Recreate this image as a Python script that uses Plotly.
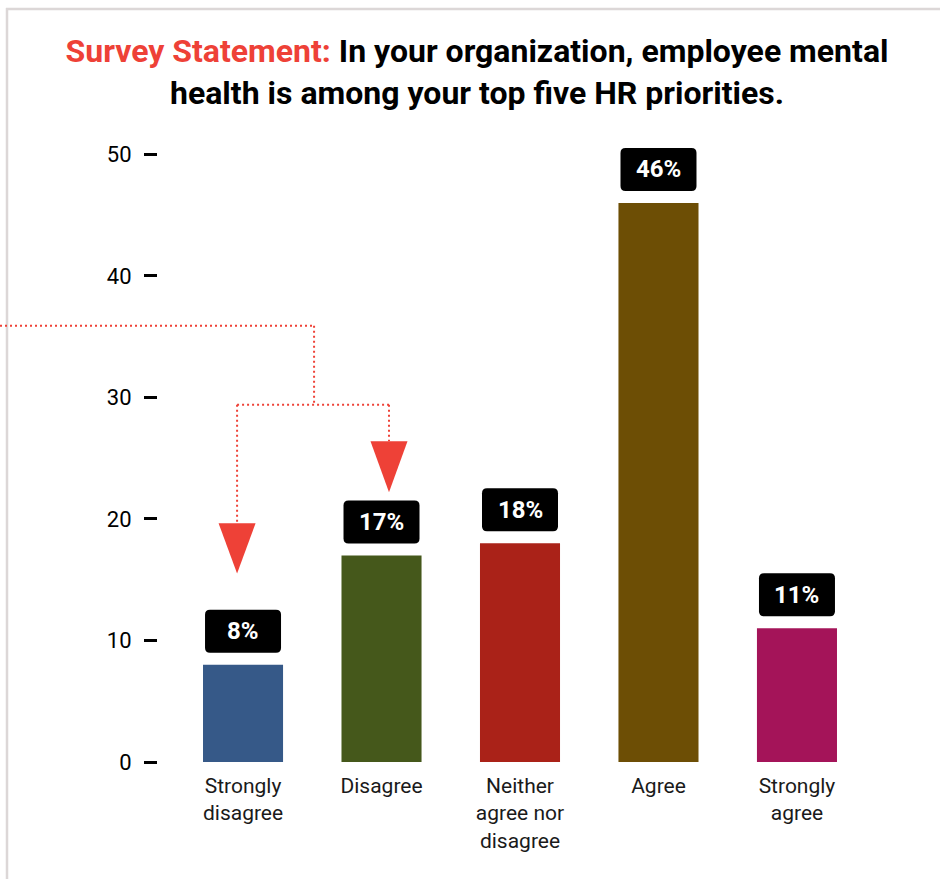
import plotly.graph_objects as go

# Survey responses
categories = ["Strongly<br>disagree", "Disagree", "Neither<br>agree nor<br>disagree", "Agree", "Strongly<br>agree"]
percentages = [8, 17, 18, 46, 11]
bar_colors = ["#365988", "#45581b", "#aa2218", "#6d4e05", "#a41459"]
y_ticks = [0, 10, 20, 30, 40, 50]

W, H = 940, 879
M_L, M_R, M_T, M_B = 158, 58, 130, 117
X_RANGE = [-0.614, 4.614]
Y_RANGE = [0, 52]
ACCENT = "#ee4137"

xs = list(range(len(categories)))

fig = go.Figure()
fig.add_trace(go.Bar(
    x=xs, y=percentages, width=0.578,
    marker=dict(color=bar_colors, line=dict(width=0)),
    hoverinfo="skip",
))


def px_x(px):
    return (px - M_L) / (W - M_L - M_R)


def px_y(py):
    return (H - M_B - py) / (H - M_T - M_B)


def dx(v):
    return (v - X_RANGE[0]) / (X_RANGE[1] - X_RANGE[0])


def dy(v):
    return (v - Y_RANGE[0]) / (Y_RANGE[1] - Y_RANGE[0])


shapes = []

# frame around the card (top and left edges)
frame = dict(color="#dcd7d7", width=2.5)
shapes.append(dict(type="line", xref="paper", yref="paper",
                   x0=px_x(6), x1=px_x(W + 2), y0=px_y(9), y1=px_y(9), line=frame))
shapes.append(dict(type="line", xref="paper", yref="paper",
                   x0=px_x(7), x1=px_x(7), y0=px_y(8), y1=px_y(H + 2), line=frame))

# dotted connector that splits towards the two "disagree" bars
dot = dict(color=ACCENT, width=2, dash="2px,3px")
split_x = 0.513
left_x, right_x = -0.043, 1.054
top_y, mid_y = 35.9, 29.4
left_head, right_head = (19.65, 15.5), (26.4, 22.2)

segments = [
    (px_x(0), dy(top_y), dx(split_x), dy(top_y)),
    (dx(split_x), dy(top_y), dx(split_x), dy(mid_y)),
    (dx(left_x), dy(mid_y), dx(right_x), dy(mid_y)),
    (dx(left_x), dy(mid_y), dx(left_x), dy(left_head[0])),
    (dx(right_x), dy(mid_y), dx(right_x), dy(right_head[0])),
]
for x0, y0, x1, y1 in segments:
    shapes.append(dict(type="line", xref="paper", yref="paper",
                       x0=x0, y0=y0, x1=x1, y1=y1, line=dot))

half_w = 18.5 / (W - M_L - M_R)
for hx, (ht, hb) in [(left_x, left_head), (right_x, right_head)]:
    cx = dx(hx)
    path = (f"M {cx - half_w},{dy(ht)} L {cx + half_w},{dy(ht)} "
            f"L {cx},{dy(hb)} Z")
    shapes.append(dict(type="path", xref="paper", yref="paper", path=path,
                       fillcolor=ACCENT, line=dict(width=0)))

# rounded black value badges above each bar
badge = ("M -33,12 L 33,12 Q 38,12 38,17 L 38,50 Q 38,55 33,55 "
         "L -33,55 Q -38,55 -38,50 L -38,17 Q -38,12 -33,12 Z")
annotations = []
for x, v in zip(xs, percentages):
    shapes.append(dict(type="path", xref="x", yref="y",
                       xsizemode="pixel", ysizemode="pixel",
                       xanchor=x, yanchor=v, path=badge,
                       fillcolor="#000000", line=dict(width=0)))
    annotations.append(dict(x=x, y=v, xref="x", yref="y", text=f"{v}%",
                            showarrow=False, yshift=33.5, yanchor="middle",
                            font=dict(family="Roboto", size=24, color="#ffffff",
                                      weight="bold")))

title_text = (f'<span style="color:{ACCENT}">Survey Statement:</span> '
              "In your organization, employee mental<br>"
              "health is among your top five HR priorities.")

fig.update_layout(
    width=W, height=H,
    margin=dict(l=M_L, r=M_R, t=M_T, b=M_B, pad=0),
    paper_bgcolor="#ffffff", plot_bgcolor="#ffffff",
    showlegend=False,
    title=dict(text=title_text, x=477 / W, xanchor="center", xref="container",
               y=1 - 62 / H, yanchor="middle", yref="container",
               font=dict(family="Roboto", size=32, color="#000000", weight="bold")),
    xaxis=dict(range=X_RANGE, tickvals=xs, ticktext=categories,
               showgrid=False, zeroline=False, showline=False, ticks="",
               ticklabelstandoff=9,
               tickfont=dict(family="Roboto", size=21, color="#1a1a1a"),
               fixedrange=True),
    yaxis=dict(range=Y_RANGE, tickvals=y_ticks, ticks="outside", ticklen=13,
               tickwidth=3, tickcolor="#000000", showgrid=False, zeroline=False,
               showline=False, ticklabelstandoff=8,
               tickfont=dict(family="Roboto", size=22, color="#000000"),
               fixedrange=True),
    shapes=shapes,
    annotations=annotations,
)

fig.write_html("out.html", config={"displayModeBar": False})
